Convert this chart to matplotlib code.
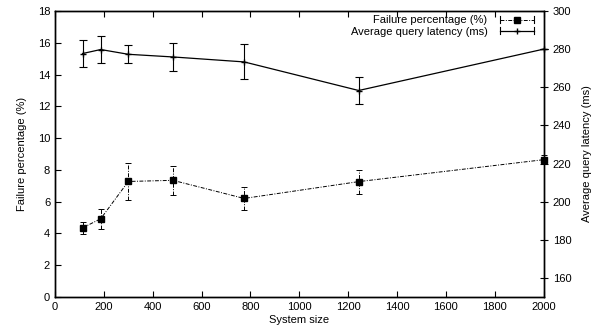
import matplotlib
matplotlib.use("Agg")
import matplotlib.pyplot as plt
from matplotlib.lines import Line2D
from matplotlib.legend_handler import HandlerBase

plt.rcParams['font.family'] = ['Liberation Sans', 'DejaVu Sans']

system_size = [113, 187, 300, 483, 774, 1243, 2000]
failure_pct = [4.35, 4.92, 7.27, 7.34, 6.2, 7.26, 8.64]
failure_err = [0.36, 0.63, 1.15, 0.9, 0.7, 0.75, 0.3]
latency_ms = [277.7, 279.8, 277.3, 275.9, 273.3, 258.3, 280.0]
latency_err = [6.9, 7.3, 4.8, 7.5, 9.2, 7.0, 0.0]

x_ticks = list(range(0, 2001, 200))
left_ticks = list(range(0, 19, 2))
right_ticks = list(range(160, 301, 20))

DASHDOT = (0, (4, 1.5, 1, 1.5))


class HErrHandler(HandlerBase):
    def __init__(self, ls, lw, marker, ms):
        super().__init__()
        self.ls, self.lw, self.marker, self.ms = ls, lw, marker, ms

    def create_artists(self, legend, orig_handle, xdescent, ydescent, width,
                       height, fontsize, trans):
        y = height / 2 - ydescent
        x0, x1 = -xdescent, width - xdescent
        line = Line2D([x0, x1], [y, y], color='black', linestyle=self.ls,
                      linewidth=self.lw, transform=trans)
        capl = Line2D([x0, x0], [y - 2.5, y + 2.5], color='black',
                      linewidth=0.8, transform=trans)
        capr = Line2D([x1, x1], [y - 2.5, y + 2.5], color='black',
                      linewidth=0.8, transform=trans)
        mk = Line2D([(x0 + x1) / 2], [y], color='black', marker=self.marker,
                    markersize=self.ms, linestyle='none', transform=trans)
        return [line, capl, capr, mk]


fig = plt.figure(figsize=(5.98, 3.34), dpi=100)
ax = fig.add_axes([0.092, 0.111, 0.817, 0.856])
ax2 = ax.twinx()

fs = 8
h1 = ax.errorbar(system_size, failure_pct, yerr=failure_err, color='black',
                 linestyle=DASHDOT, linewidth=0.7, marker='s',
                 markersize=5, capsize=2.5, elinewidth=0.7, capthick=0.7,
                 clip_on=False, zorder=3)
h1[2][0].set_linestyle(DASHDOT)

h2 = ax2.errorbar(system_size, latency_ms, yerr=latency_err, color='black',
                  linestyle='-', linewidth=0.9, marker='+', markersize=5,
                  capsize=3, elinewidth=0.8, capthick=0.8,
                  clip_on=False, zorder=3)

ax.set_xlim(0, 2000)
ax.set_ylim(0, 18)
ax2.set_ylim(150, 300)
ax.set_xticks(x_ticks)
ax.set_yticks(left_ticks)
ax2.set_yticks(right_ticks)
ax.tick_params(axis='both', direction='in', labelsize=fs, length=4, width=0.8,
               top=True)
ax2.tick_params(axis='y', direction='inout', labelsize=fs, length=6, width=0.8)
ax.set_xlabel('System size', fontsize=fs, labelpad=2)
ax.set_ylabel('Failure percentage (%)', fontsize=fs, labelpad=8)
ax2.set_ylabel('Average query latency (ms)', fontsize=fs, labelpad=8)

for a in (ax, ax2):
    for s in a.spines.values():
        s.set_linewidth(1.0)

p1 = Line2D([], [])
p2 = Line2D([], [])
leg = ax2.legend([p1, p2], ['Failure percentage (%)', 'Average query latency (ms)'],
                 handler_map={p1: HErrHandler(DASHDOT, 0.7, 's', 5),
                              p2: HErrHandler('-', 0.9, '+', 5)},
                 loc='upper right', bbox_to_anchor=(0.99, 1.0),
                 fontsize=fs, frameon=False,
                 markerfirst=False, handlelength=3.1, borderaxespad=0.2,
                 borderpad=0.2, labelspacing=0.1, handletextpad=1.1)
for t in leg.get_texts():
    t.set_ha('right')

fig.savefig('out.png', dpi=100)
